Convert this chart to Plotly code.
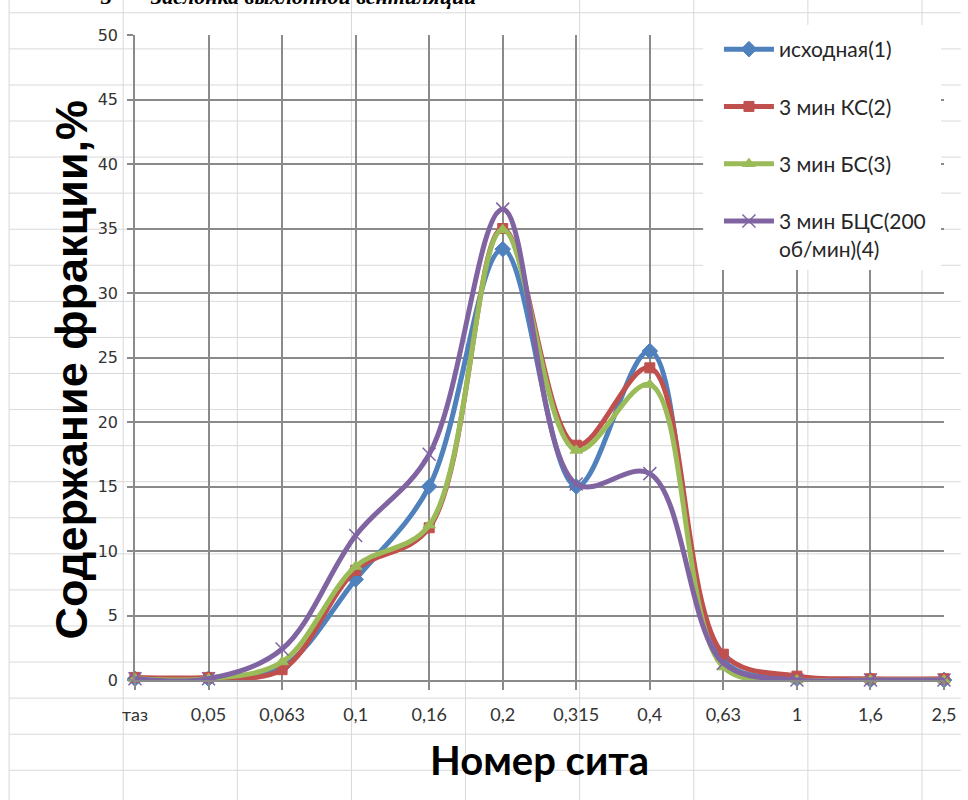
import plotly.graph_objects as go

# ---- data ----
categories = ["таз", "0,05", "0,063", "0,1", "0,16", "0,2", "0,315", "0,4", "0,63", "1", "1,6", "2,5"]
s1_name = "исходная(1)"
s1 = [0.1, 0.1, 1.0, 7.8, 15.0, 33.4, 15.0, 25.5, 1.5, 0.1, 0.0, 0.0]
s2_name = "3 мин КС(2)"
s2 = [0.2, 0.2, 0.8, 8.5, 11.8, 35.0, 18.2, 24.2, 2.0, 0.3, 0.1, 0.1]
s3_name = "3 мин БС(3)"
s3 = [0.1, 0.1, 1.4, 8.8, 12.0, 34.9, 17.8, 22.9, 1.0, 0.0, 0.0, 0.0]
s4_name = "3 мин БЦС(200<br>об/мин)(4)"
s4 = [0.1, 0.1, 2.4, 11.2, 17.5, 36.5, 15.2, 16.0, 1.3, 0.0, 0.0, 0.0]
y_ticks = [0, 5, 10, 15, 20, 25, 30, 35, 40, 45, 50]

W, H = 968, 800
L, R, T, B = 135, 17, 35, 120
PW, PH = W - L - R, H - T - B


def px(x):
    return (x - L) / PW


def py(y):
    return (H - B - y) / PH


fig = go.Figure()

series = [
    (s1_name, s1, "#4F81BD", dict(symbol="diamond", size=12)),
    (s2_name, s2, "#C0504D", dict(symbol="square", size=10)),
    (s3_name, s3, "#9BBB59", dict(symbol="triangle-up", size=11)),
    (s4_name, s4, "#8064A2", dict(symbol="x-thin", size=13)),
]
for i, (name, vals, col, mk) in enumerate(series):
    marker = dict(color=col, line=dict(color=col, width=1.5 if mk["symbol"] == "x-thin" else 1), **mk)
    fig.add_trace(go.Scatter(
        x=categories, y=vals, name=name, mode="lines+markers",
        line=dict(color=col, width=5, shape="spline", smoothing=1.0),
        marker=marker, cliponaxis=False, legendgroup=f"g{i}",
    ))

# spreadsheet cell grid behind the chart (decorative)
shapes = []
grid_col = "#d9d9d9"
for k in range(9):
    xv = 8 + 115.1 * k
    shapes.append(dict(type="line", xref="paper", yref="paper", layer="below",
                       x0=px(xv), x1=px(xv), y0=py(0), y1=py(800),
                       line=dict(color=grid_col, width=1)))
for k in range(22):
    yv = 12.8 + 36.07 * k
    shapes.append(dict(type="line", xref="paper", yref="paper", layer="below",
                       x0=px(8), x1=px(968), y0=py(yv), y1=py(yv),
                       line=dict(color=grid_col, width=1)))
# legend white box
shapes.append(dict(type="rect", xref="paper", yref="paper", layer="above",
                   x0=px(708), x1=px(948), y0=py(25), y1=py(270),
                   fillcolor="white", line=dict(width=0)))

annotations = [
    dict(text="<b>Содержание фракции,%</b>", textangle=-90, xref="paper", yref="paper",
         x=px(70), y=py(370), xanchor="center", yanchor="middle", showarrow=False,
         font=dict(family="Liberation Sans", size=45, color="#000000")),
    dict(text="<b>Номер сита</b>", xref="paper", yref="paper",
         x=px(543), y=py(760), xanchor="center", yanchor="middle", showarrow=False,
         font=dict(family="Lato", size=40, color="#000000")),
    dict(text="<b><i>3</i></b>", xref="paper", yref="paper",
         x=px(106), y=py(11), xanchor="center", yanchor="bottom", showarrow=False,
         font=dict(family="Liberation Serif", size=22, color="#000000")),
    dict(text="<b><i>Заслонка выхлопной вентиляции</i></b>", xref="paper", yref="paper",
         x=px(148), y=py(11), xanchor="left", yanchor="bottom", showarrow=False,
         font=dict(family="Liberation Serif", size=22, color="#000000")),
]

fig.update_layout(
    width=W, height=H,
    margin=dict(l=L, r=R, t=T, b=B, pad=0),
    paper_bgcolor="white",
    plot_bgcolor="rgba(0,0,0,0)",
    shapes=shapes,
    annotations=annotations,
    showlegend=True,
    legend=dict(
        x=px(724), y=py(29), xanchor="left", yanchor="top",
        bgcolor="rgba(0,0,0,0)", borderwidth=0,
        font=dict(family="Lato", size=21, color="#262626"),
        tracegroupgap=27, itemwidth=50, valign="top",
    ),
    xaxis=dict(
        type="category", range=[0, 11],
        showgrid=True, gridcolor="#8a8a8a", gridwidth=1.5,
        showline=True, linecolor="#8a8a8a", linewidth=1.5,
        ticks="outside", ticklen=8, tickcolor="#8a8a8a", tickwidth=1.5,
        tickfont=dict(family="Lato", size=18, color="#333333"),
        ticklabelstandoff=10,
    ),
    yaxis=dict(
        range=[0, 50], tickvals=y_ticks, ticktext=[str(v) for v in y_ticks],
        showgrid=True, gridcolor="#8a8a8a", gridwidth=1.5, zeroline=False,
        showline=True, linecolor="#8a8a8a", linewidth=1.5,
        ticks="outside", ticklen=6, tickcolor="#8a8a8a", tickwidth=1.5,
        tickfont=dict(family="DejaVu Sans", size=16, color="#333333"),
        ticklabelstandoff=6,
    ),
)

fig.write_html("out.html")
